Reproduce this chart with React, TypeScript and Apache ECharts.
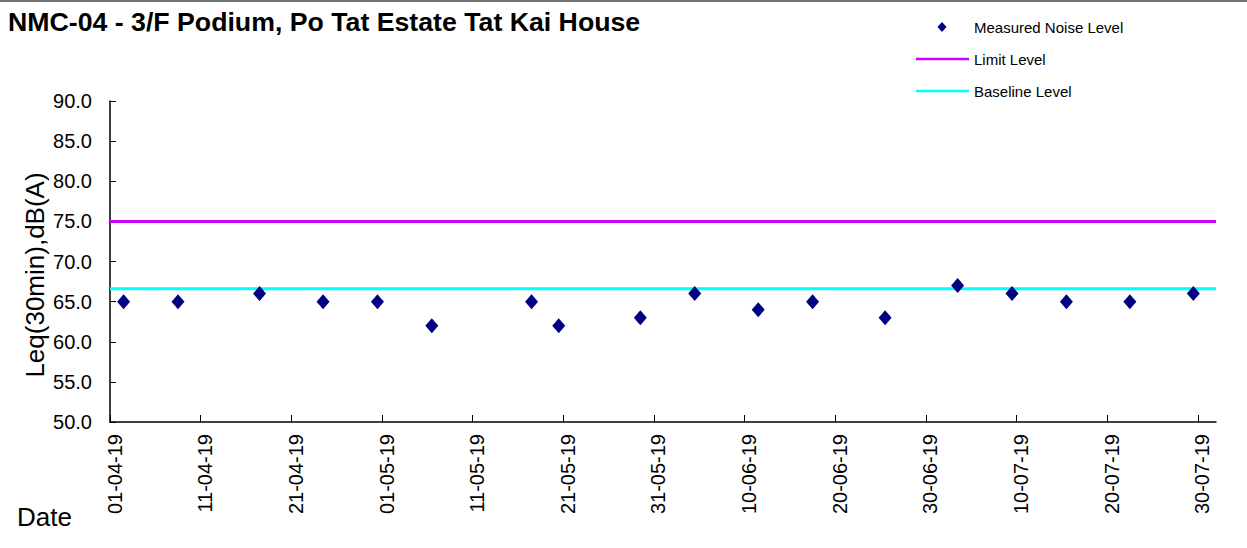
import React, { useEffect, useRef } from "react";
import * as echarts from "echarts";

const chartTitle = "NMC-04 - 3/F Podium, Po Tat Estate Tat Kai House";
const yAxisTitle = "Leq(30min),dB(A)";
const xAxisTitle = "Date";

const axisStartDate = "2019-04-01";
const axisEndDate = "2019-08-01";
const tickDates = [
  "2019-04-01", "2019-04-11", "2019-04-21", "2019-05-01", "2019-05-11",
  "2019-05-21", "2019-05-31", "2019-06-10", "2019-06-20", "2019-06-30",
  "2019-07-10", "2019-07-20", "2019-07-30",
];

const measurementDates = [
  "2019-04-02", "2019-04-08", "2019-04-17", "2019-04-24", "2019-04-30",
  "2019-05-06", "2019-05-17", "2019-05-20", "2019-05-29", "2019-06-04",
  "2019-06-11", "2019-06-17", "2019-06-25", "2019-07-03", "2019-07-09",
  "2019-07-15", "2019-07-22", "2019-07-29",
];
const measuredLevels = [65, 65, 66, 65, 65, 62, 65, 62, 63, 66, 64, 65, 63, 67, 66, 65, 65, 66];

const limitLevel = 75;
const baselineLevel = 66.6;

const yMin = 50;
const yMax = 90;
const yInterval = 5;

const legendNames = ["Measured Noise Level", "Limit Level", "Baseline Level"];

const DAY = 86400000;
const parseUTC = (s: string) => {
  const [y, m, d] = s.split("-").map(Number);
  return Date.UTC(y, m - 1, d);
};
const start = parseUTC(axisStartDate);
const dayIndex = (s: string) => (parseUTC(s) - start) / DAY;
const pad = (n: number) => (n < 10 ? "0" + n : "" + n);
const fmtDay = (v: number) => {
  const d = new Date(start + Math.floor(v + 1e-6) * DAY);
  return pad(d.getUTCDate()) + "-" + pad(d.getUTCMonth() + 1) + "-" + pad(d.getUTCFullYear() % 100);
};

const FONT = "'Liberation Sans', Arial, sans-serif";
const NAVY = "#000080";
const MAGENTA = "#CC00FF";
const CYAN = "#00FFFF";

export default function App() {
  const ref = useRef<HTMLDivElement>(null);
  useEffect(() => {
    document.body.style.margin = "0";
    if (!ref.current) return;
    const chart = echarts.init(ref.current, null, { renderer: "svg" });
    const xMax = dayIndex(axisEndDate);
    const tickVals = tickDates.map(dayIndex);
    // dates sit in the middle of their day slot, as on the source date axis
    const labelVals = tickVals.map((v) => v + 0.5);
    const points = measurementDates.map((d, i) => [dayIndex(d) + 0.5, measuredLevels[i]]);

    chart.setOption({
      animation: false,
      backgroundColor: "#ffffff",
      textStyle: { fontFamily: FONT },
      grid: { left: 110, right: 31, top: 101, bottom: 126, containLabel: false },
      xAxis: {
        type: "value",
        min: 0,
        max: xMax,
        interval: 10,
        splitLine: { show: false },
        axisLine: { lineStyle: { color: "#000", width: 1.5 } },
        axisTick: { inside: true, length: 7, lineStyle: { color: "#000" }, customValues: tickVals },
        axisLabel: {
          customValues: labelVals,
          rotate: 90,
          margin: 12,
          fontSize: 20,
          color: "#000",
          fontFamily: FONT,
          formatter: (v: number) => fmtDay(v),
        },
      },
      yAxis: {
        type: "value",
        min: yMin,
        max: yMax,
        interval: yInterval,
        splitLine: { show: false },
        axisLine: { show: true, lineStyle: { color: "#000", width: 1.5 } },
        axisTick: { show: true, inside: true, length: 6, lineStyle: { color: "#000" } },
        axisLabel: {
          margin: 18,
          fontSize: 20,
          color: "#000",
          fontFamily: FONT,
          formatter: (v: number) => v.toFixed(1),
        },
      },
      series: [
        {
          name: legendNames[1],
          type: "line",
          data: [[0, limitLevel], [xMax, limitLevel]],
          symbol: "none",
          lineStyle: { color: MAGENTA, width: 3 },
          z: 2,
        },
        {
          name: legendNames[2],
          type: "line",
          data: [[0, baselineLevel], [xMax, baselineLevel]],
          symbol: "none",
          lineStyle: { color: CYAN, width: 3 },
          z: 2,
        },
        {
          name: legendNames[0],
          type: "scatter",
          data: points,
          symbol: "diamond",
          symbolSize: [13, 15],
          itemStyle: { color: NAVY, opacity: 1 },
          z: 3,
        },
      ],
      graphic: [
        { type: "line", shape: { x1: 0, y1: 1, x2: 1247, y2: 1 }, style: { stroke: "#444", lineWidth: 1.5 } },
        {
          type: "text",
          x: 8,
          y: 22,
          style: { text: chartTitle, fontSize: 26.7, fontWeight: "bold", fontFamily: FONT, fill: "#000", textVerticalAlign: "middle" },
        },
        {
          type: "text",
          x: 35,
          y: 275,
          rotation: Math.PI / 2,
          style: { text: yAxisTitle, fontSize: 26, fontFamily: FONT, fill: "#000", textAlign: "center", textVerticalAlign: "middle" },
        },
        {
          type: "text",
          x: 17,
          y: 517,
          style: { text: xAxisTitle, fontSize: 26, fontFamily: FONT, fill: "#000", textVerticalAlign: "middle" },
        },
        // legend
        { type: "polygon", shape: { points: [[942, 22], [946.5, 27], [942, 32], [937.5, 27]] }, style: { fill: NAVY } },
        { type: "text", x: 974, y: 27, style: { text: legendNames[0], fontSize: 15, fontFamily: FONT, fill: "#000", textVerticalAlign: "middle" } },
        { type: "line", shape: { x1: 916, y1: 59, x2: 969, y2: 59 }, style: { stroke: MAGENTA, lineWidth: 2.5 } },
        { type: "text", x: 974, y: 59, style: { text: legendNames[1], fontSize: 15, fontFamily: FONT, fill: "#000", textVerticalAlign: "middle" } },
        { type: "line", shape: { x1: 916, y1: 91, x2: 969, y2: 91 }, style: { stroke: CYAN, lineWidth: 2.5 } },
        { type: "text", x: 974, y: 91, style: { text: legendNames[2], fontSize: 15, fontFamily: FONT, fill: "#000", textVerticalAlign: "middle" } },
      ],
    });
    return () => chart.dispose();
  }, []);
  return <div ref={ref} style={{ position: "absolute", left: 0, top: 0, width: 1247, height: 548 }} />;
}
